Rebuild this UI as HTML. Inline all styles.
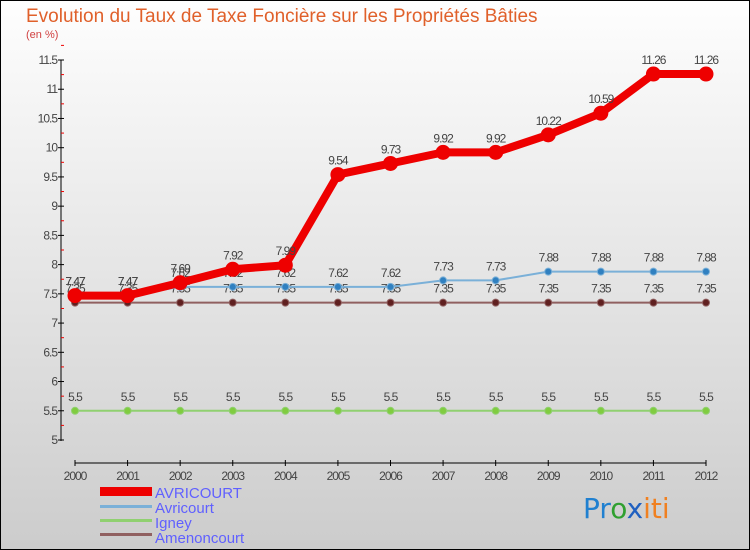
<!DOCTYPE html>
<html><head><meta charset="utf-8"><style>
body{margin:0}
#c{width:750px;height:550px;position:relative;box-sizing:border-box;border:1px solid #000;background:linear-gradient(#fefefe,#cccccc);font-family:"Liberation Sans",sans-serif;overflow:hidden}
</style></head><body>
<div id="c">
<svg id="s" width="750" height="550" style="position:absolute;left:-1px;top:-1px">
<text x="26" y="22" font-size="19" fill="#e0602a">Evolution du Taux de Taxe Foncière sur les Propriétés Bâties</text>
<text x="26" y="38" font-size="11" fill="#d04040">(en %)</text>
<g id="g"></g>
<g font-size="15" fill="#6060ff">
<rect x="100" y="487" width="52" height="9" fill="#e00"/>
<text x="155" y="498">AVRICOURT</text>
<rect x="100" y="505" width="52" height="3" fill="#7ab0d8"/>
<text x="155" y="513">Avricourt</text>
<rect x="100" y="519" width="52" height="3" fill="#90d070"/>
<text x="155" y="528">Igney</text>
<rect x="100" y="533" width="52" height="3" fill="#906060"/>
<text x="155" y="543">Amenoncourt</text>
</g>
<text x="583" y="518" font-size="28" font-family="'DejaVu Sans',sans-serif"><tspan fill="#2080d0">Pr</tspan><tspan fill="#30a030">o</tspan><tspan fill="#2060c0">x</tspan><tspan fill="#f08020">iti</tspan></text>
</svg>
</div>
<script>
const years=[2000,2001,2002,2003,2004,2005,2006,2007,2008,2009,2010,2011,2012];
const avricourtUpper=[7.47,7.47,7.69,7.92,7.99,9.54,9.73,9.92,9.92,10.22,10.59,11.26,11.26];
const avricourt=[7.47,7.47,7.62,7.62,7.62,7.62,7.62,7.73,7.73,7.88,7.88,7.88,7.88];
const igney=[5.5,5.5,5.5,5.5,5.5,5.5,5.5,5.5,5.5,5.5,5.5,5.5,5.5];
const amenoncourt=[7.35,7.35,7.35,7.35,7.35,7.35,7.35,7.35,7.35,7.35,7.35,7.35,7.35];
const yTicks=[5,5.5,6,6.5,7,7.5,8,8.5,9,9.5,10,10.5,11,11.5];
const NS="http://www.w3.org/2000/svg";
const g=document.getElementById('g');
const X=i=>75+i*(706-75)/(years.length-1);
const Y=v=>440-(v-5)*(380/6.5);
function el(t,a,p){const e=document.createElementNS(NS,t);for(const k in a)e.setAttribute(k,a[k]);(p||g).appendChild(e);return e;}
// axes
const ya=el('line',{x1:61,y1:60,x2:61,y2:441,stroke:'#000'});


const xa=el('line',{x1:75,y1:463,x2:706,y2:463,stroke:'#000'});


yTicks.forEach(v=>{
 const y=Y(v);
 el('line',{x1:58,y1:y,x2:64,y2:y,stroke:'#000'});
 el('line',{x1:61,y1:Y(v+0.25),x2:64,y2:Y(v+0.25),stroke:'#e00'});
 const t=el('text',{x:57,y:y+4,'font-size':12,fill:'#444','text-anchor':'end','letter-spacing':'-1'});
 t.textContent=String(v);
 
 
});
years.forEach((yr,i)=>{
 el('line',{x1:X(i),y1:460,x2:X(i),y2:466,stroke:'#000'});
 const t=el('text',{x:X(i),y:480,'font-size':12,fill:'#444','text-anchor':'middle','letter-spacing':'-1'});
 t.textContent=yr;
 
 
});
function series(data,name,color,w,r,dot){
 const p=el('polyline',{points:data.map((v,i)=>X(i)+','+Y(v)).join(' '),fill:'none',stroke:color,'stroke-width':w,'stroke-linejoin':'round'});
 
 
 data.forEach((v,i)=>{
  const c=el('circle',{cx:X(i),cy:Y(v),r:r,fill:dot,stroke:color,'stroke-width':1});
  
  
  const t=el('text',{x:X(i),y:Y(v)-10,'font-size':12,fill:'#444','text-anchor':'middle','letter-spacing':'-1'});
  t.textContent=String(v);
  
  
 });
}
series(igney,'igney','#90d070',2,3.5,'#80cc40');
series(amenoncourt,'amenoncourt','#906060',2,3.5,'#602020');
series(avricourt,'avricourt','#7ab0d8',2,3.5,'#3080c0');
series(avricourtUpper,'avricourt-upper','#e00',8,7,'#e00');
</script>
</body></html>
